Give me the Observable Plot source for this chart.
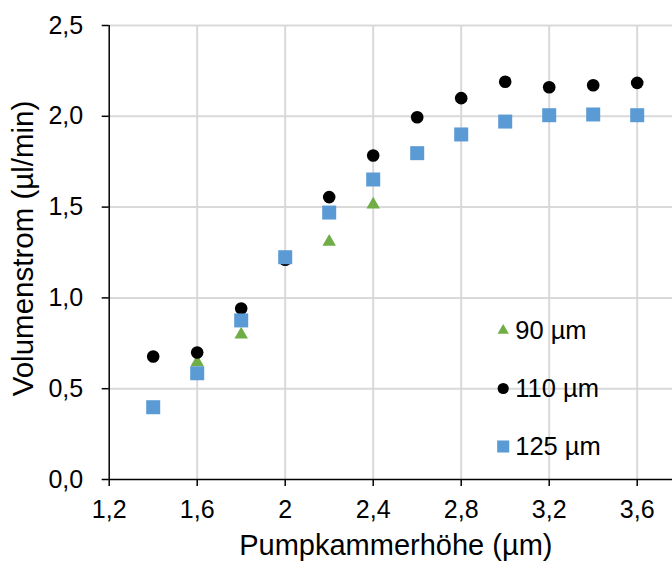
<!DOCTYPE html>
<html><head><meta charset="utf-8">
<script src="https://cdn.jsdelivr.net/npm/d3@7"></script>
<script src="https://cdn.jsdelivr.net/npm/@observablehq/plot@0.6"></script>
<style>
body{margin:0;background:#fff;}
#chart svg{font-family:"Liberation Sans",Arial,sans-serif;}
</style>
</head><body><div id="chart"></div>
<script>
// Pumpkammerhöhe (µm)
const hoehe = [1.4, 1.6, 1.8, 2.0, 2.2, 2.4, 2.6, 2.8, 3.0, 3.2, 3.4, 3.6];
const hoehe90 = [1.6, 1.8, 2.0, 2.2, 2.4];
// Volumenstrom (µl/min)
const s90 = [0.645, 0.798, 1.22, 1.309, 1.514];
const s110 = [0.677, 0.699, 0.942, 1.21, 1.555, 1.784, 1.995, 2.100, 2.190, 2.160, 2.171, 2.184];
const s125 = [0.398, 0.585, 0.876, 1.224, 1.470, 1.652, 1.797, 1.900, 1.971, 2.006, 2.010, 2.006];
const seriesNames = ["90 µm", "110 µm", "125 µm"];
const xTicks = [1.2, 1.6, 2, 2.4, 2.8, 3.2, 3.6];
const yTicks = [0, 0.5, 1, 1.5, 2, 2.5];
const xTitle = "Pumpkammerhöhe (µm)";
const yTitle = "Volumenstrom (µl/min)";

const colors = ["#70AD47", "#000000", "#5B9BD5"];
const symbols = ["triangle", "circle", "square"];
const radii = [5, 6.3, 7.9];
const legendRadii = [4.2, 5.6, 6.8];

const d90 = hoehe90.map((x, i) => ({x, y: s90[i]}));
const d110 = hoehe.map((x, i) => ({x, y: s110[i]}));
const d125 = hoehe.map((x, i) => ({x, y: s125[i]}));
const sets = [d90, d110, d125];

const fmtY = d => d.toFixed(1).replace(".", ",");
const fmtX = d => String(d).replace(".", ",");

const marks = [
  Plot.ruleY(yTicks.filter(d => d > 0), {stroke: "#d9d9d9", strokeWidth: 2}),
  Plot.ruleX(xTicks.filter(d => d > 1.2), {stroke: "#d9d9d9", strokeWidth: 2}),
  Plot.ruleY([0], {stroke: "#000", strokeWidth: 1.5}),
  Plot.ruleX([1.2], {stroke: "#000", strokeWidth: 1.5}),
  Plot.axisY({ticks: yTicks, tickFormat: fmtY, tickSize: 7, tickPadding: 19, fontSize: 25, label: null, stroke: "#000", strokeWidth: 1.5, fill: "#000"}),
  Plot.axisX({ticks: xTicks, tickFormat: fmtX, tickSize: 7, tickPadding: 14, fontSize: 25, label: null, stroke: "#000", strokeWidth: 1.5, fill: "#000"}),
];
sets.forEach((data, i) => {
  marks.push(Plot.dot(data, {x: "x", y: "y", symbol: () => symbols[i], r: radii[i], fill: colors[i], stroke: "none"}));
});
seriesNames.forEach((name, i) => {
  marks.push(Plot.dot([name], {frameAnchor: "top-left", dx: 394, dy: 305 + i * 58, symbol: () => symbols[i], r: legendRadii[i], fill: colors[i], stroke: "none"}));
  marks.push(Plot.text([name], {frameAnchor: "top-left", dx: 406, dy: 305 + i * 58, text: d => d, textAnchor: "start", lineAnchor: "middle", fontSize: 25.5, fill: "#000"}));
});
marks.push(Plot.text([xTitle], {frameAnchor: "bottom", dx: 5, dy: 66.5, text: d => d, textAnchor: "middle", lineAnchor: "middle", fontSize: 29, fill: "#000"}));
marks.push(Plot.text([yTitle], {frameAnchor: "left", dx: -86, dy: -4, rotate: -90, text: d => d, textAnchor: "middle", lineAnchor: "middle", fontSize: 29.5, fill: "#000"}));

const chart = Plot.plot({
  width: 672,
  height: 564,
  marginLeft: 108.7,
  marginRight: 0,
  marginTop: 25,
  marginBottom: 85,
  style: {fontFamily: "'Liberation Sans', Arial, sans-serif", background: "#fff", color: "#000", overflow: "hidden"},
  x: {domain: [1.2, 3.8], range: [108.7, 680.7]},
  y: {domain: [0, 2.5], range: [479, 25]},
  symbol: {type: "identity"},
  marks
});
document.getElementById("chart").append(chart);
</script>
</body></html>
